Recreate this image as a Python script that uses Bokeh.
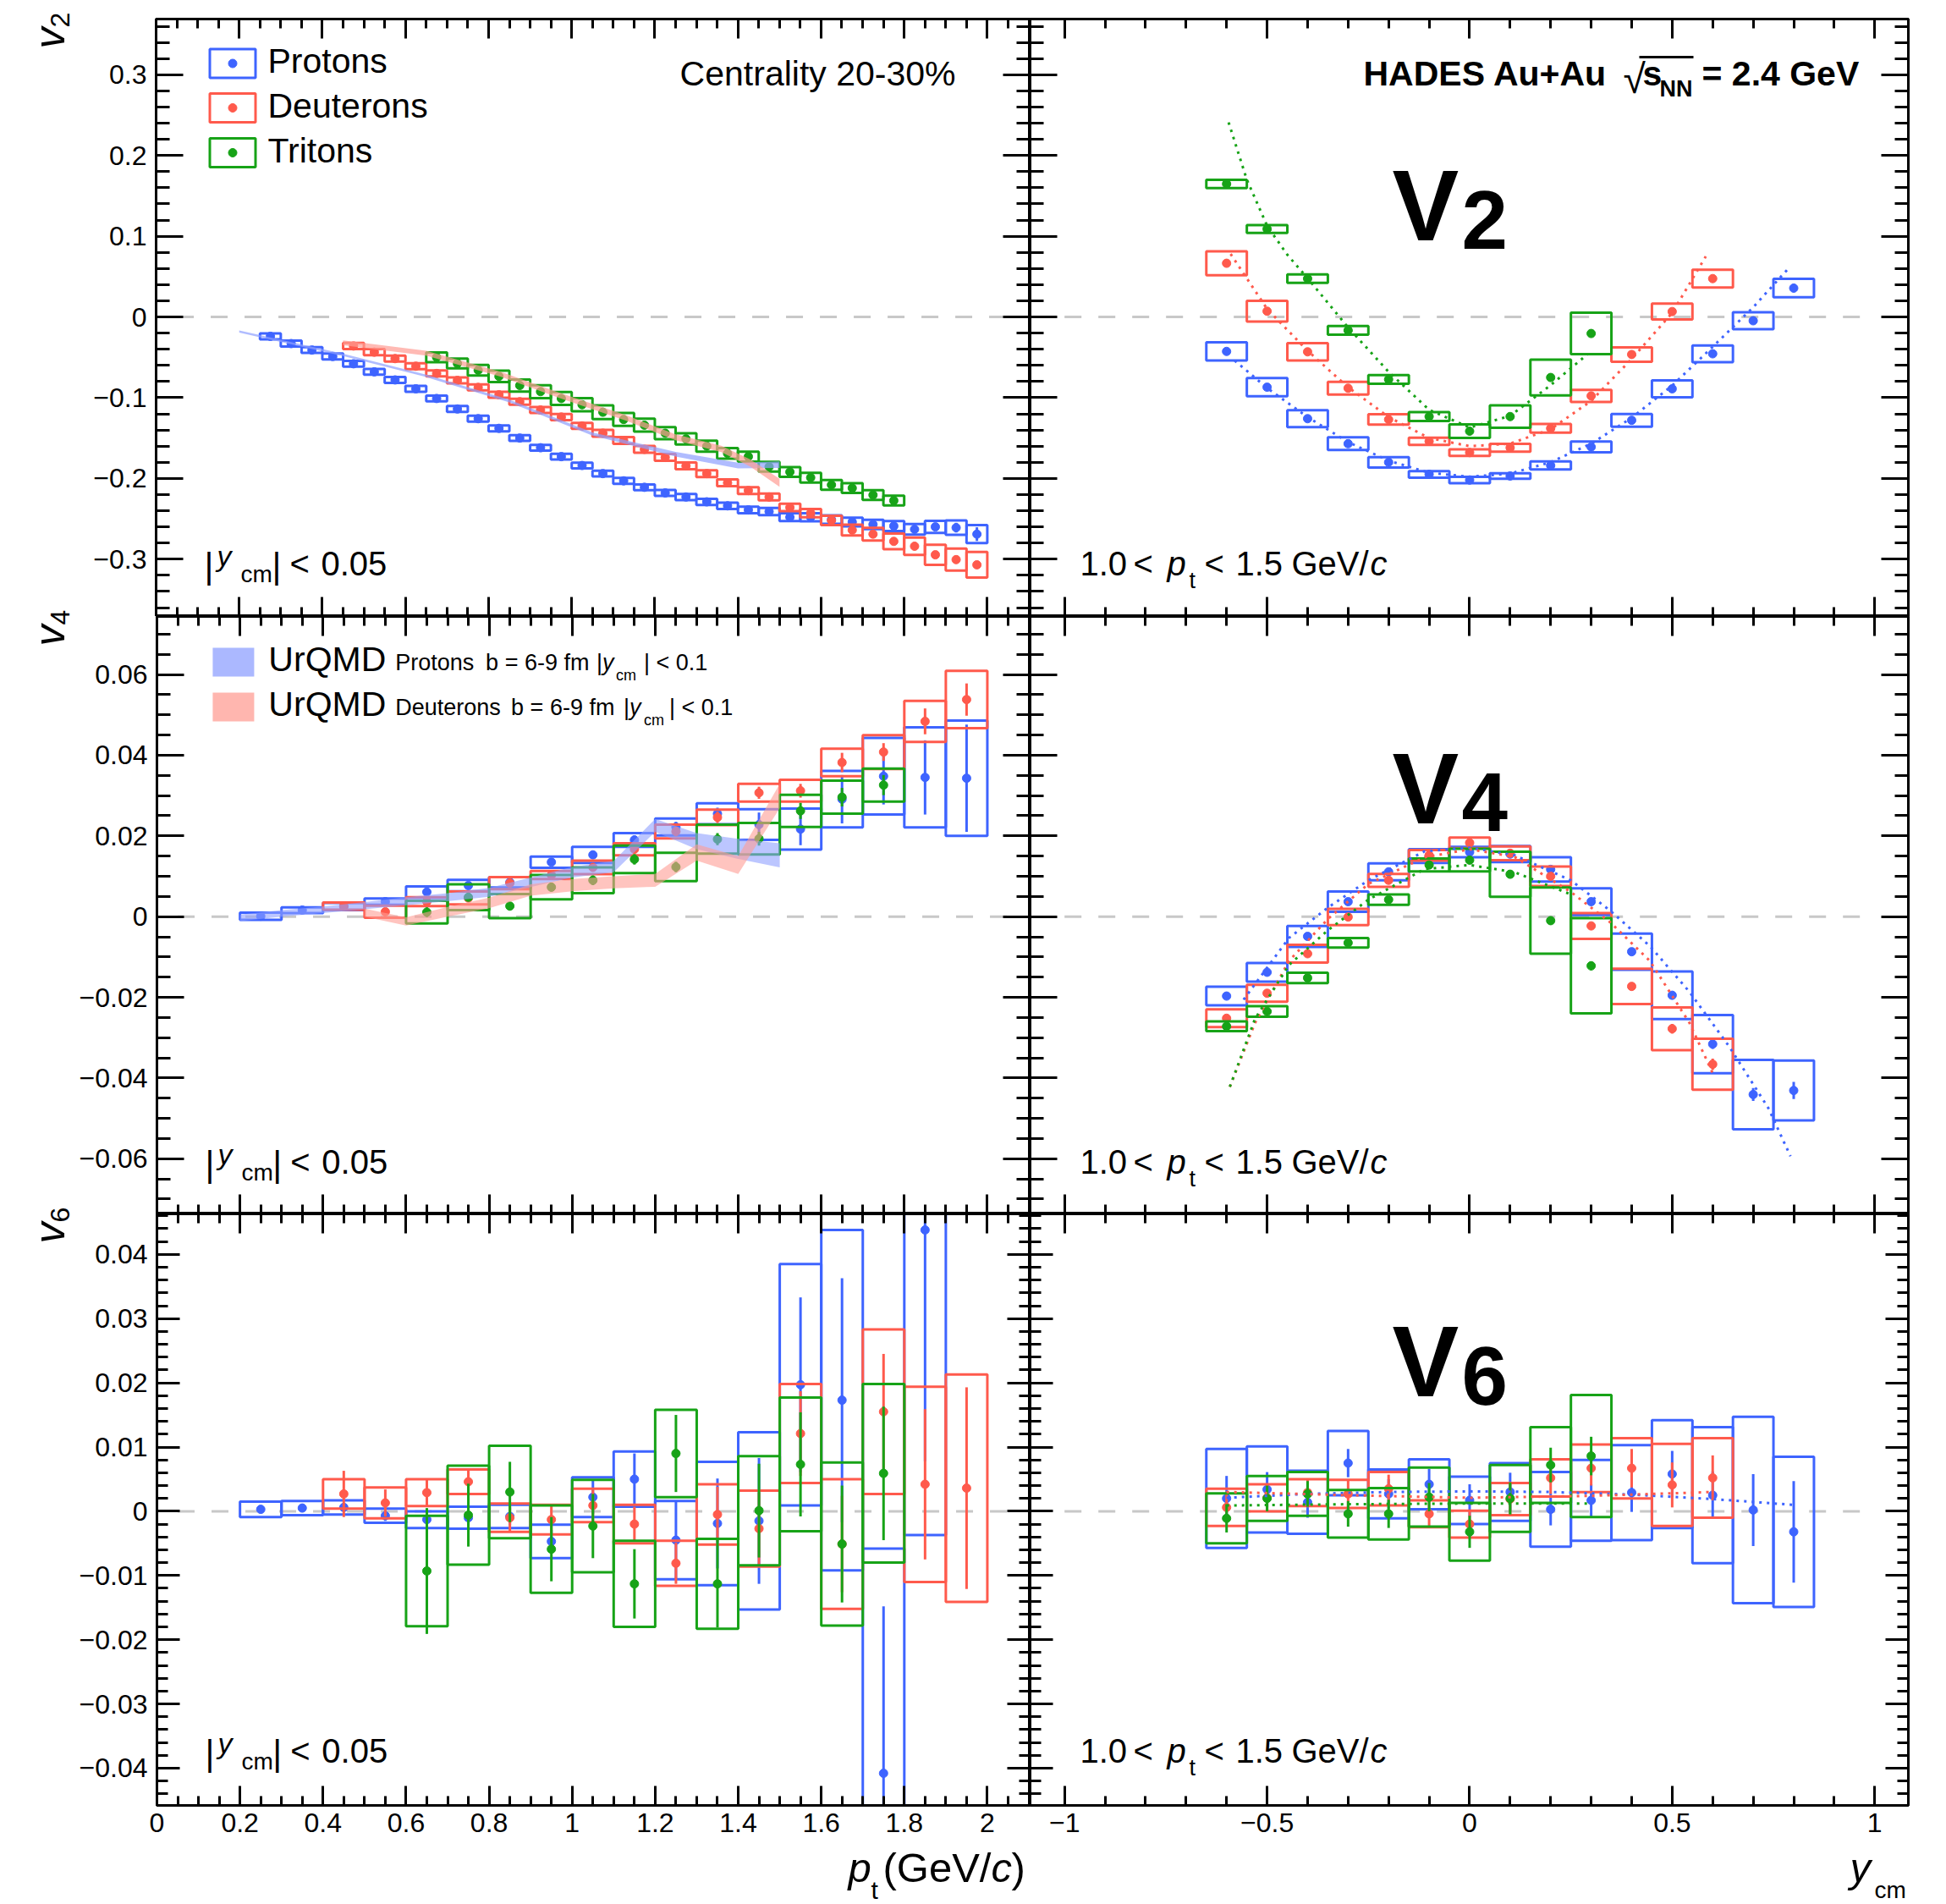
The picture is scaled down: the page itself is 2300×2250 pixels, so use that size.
import math
import numpy as np
from bokeh.plotting import figure
from bokeh.layouts import column, row
from bokeh.models import (Range1d, LinearAxis, FixedTicker, CustomJSTickFormatter, ColumnDataSource)
from bokeh.core.properties import value
from bokeh.embed import file_html
from bokeh.resources import INLINE

FONT = "Liberation Sans"
BLUE, RED, GREEN = "#3e64ff", "#ff5a4c", "#17a317"
BAND_BLUE, BAND_RED = "#8fa0ff", "#ff9d94"
ZERO_GREY = "#c8c8c8"
K_MID = 0.35   # distance (in em) from the text middle line to its baseline

# ===================== DATA =====================
# ---- v2 vs pt, |y_cm| < 0.05 ----
v2pt_p_pt = [0.275, 0.325, 0.375, 0.425, 0.475, 0.525, 0.575, 0.625, 0.675, 0.725, 0.775, 0.825,
             0.875, 0.925, 0.975, 1.025, 1.075, 1.125, 1.175, 1.225, 1.275, 1.325, 1.375, 1.425,
             1.475, 1.525, 1.575, 1.625, 1.675, 1.725, 1.775, 1.825, 1.875, 1.925, 1.975]
v2pt_p = [-0.024, -0.033, -0.041, -0.049, -0.058, -0.068, -0.078, -0.089, -0.101, -0.114, -0.126, -0.138,
          -0.150, -0.162, -0.173, -0.184, -0.194, -0.203, -0.211, -0.218, -0.223, -0.229, -0.234, -0.239,
          -0.241, -0.248, -0.248, -0.251, -0.254, -0.257, -0.259, -0.263, -0.260, -0.261, -0.269]
v2pt_p_sys = [0.0036, 0.0036, 0.0036, 0.0036, 0.0036, 0.0036, 0.0036, 0.0036, 0.0036, 0.0036, 0.0036, 0.0036,
              0.0036, 0.0036, 0.0036, 0.0036, 0.0036, 0.0036, 0.0036, 0.0036, 0.0038, 0.0038, 0.004, 0.004,
              0.0045, 0.0048, 0.005, 0.0052, 0.0054, 0.0058, 0.0062, 0.0066, 0.0075, 0.0089, 0.0112]
v2pt_p_stat = [0.0008] * 31 + [0.002, 0.003, 0.006, 0.0085]

v2pt_d_pt = [0.475, 0.525, 0.575, 0.625, 0.675, 0.725, 0.775, 0.825, 0.875, 0.925, 0.975, 1.025,
             1.075, 1.125, 1.175, 1.225, 1.275, 1.325, 1.375, 1.425, 1.475, 1.525, 1.575, 1.625,
             1.675, 1.725, 1.775, 1.825, 1.875, 1.925, 1.975]
v2pt_d = [-0.036, -0.0436, -0.0516, -0.061, -0.070, -0.0786, -0.0873, -0.0964, -0.105, -0.1153, -0.124, -0.135,
          -0.144, -0.153, -0.164, -0.174, -0.1845, -0.194, -0.2055, -0.215, -0.223, -0.236, -0.243, -0.252,
          -0.264, -0.269, -0.278, -0.284, -0.2946, -0.3006, -0.307]
v2pt_d_sys = [0.0037, 0.0037, 0.0037, 0.0037, 0.0037, 0.0037, 0.0037, 0.0037, 0.0037, 0.0037, 0.0037, 0.0037,
              0.0042, 0.0042, 0.0042, 0.0042, 0.0042, 0.0042, 0.0042, 0.0042, 0.0042, 0.0046, 0.005, 0.0058,
              0.0067, 0.0079, 0.0098, 0.0107, 0.0124, 0.0136, 0.0159]
v2pt_d_stat = [0.001] * 26 + [0.0015, 0.0018, 0.002, 0.0025, 0.003]

v2pt_t_pt = [0.675, 0.725, 0.775, 0.825, 0.875, 0.925, 0.975, 1.025, 1.075, 1.125, 1.175, 1.225,
             1.275, 1.325, 1.375, 1.425, 1.475, 1.525, 1.575, 1.625, 1.675, 1.725, 1.775]
v2pt_t = [-0.050, -0.0576, -0.066, -0.0736, -0.0849, -0.0925, -0.101, -0.1087, -0.118, -0.127, -0.134, -0.144,
          -0.151, -0.160, -0.169, -0.173, -0.1855, -0.192, -0.199, -0.208, -0.212, -0.2205, -0.2275]
v2pt_t_sys = [0.006, 0.006, 0.0065, 0.007, 0.0075, 0.008, 0.008, 0.008, 0.0085, 0.008, 0.008, 0.0075,
              0.007, 0.0068, 0.0065, 0.0062, 0.006, 0.006, 0.006, 0.006, 0.006, 0.006, 0.006]
v2pt_t_stat = [0.001] * 23

# UrQMD v2 bands
urqmd_p_v2_pt = [0.2, 0.45, 0.65, 0.85, 1.05, 1.25, 1.4, 1.5]
urqmd_p_v2 = [-0.018, -0.047, -0.073, -0.104, -0.145, -0.170, -0.184, -0.183]
urqmd_p_v2_hw = [0.0014, 0.0014, 0.0015, 0.0017, 0.002, 0.0028, 0.0035, 0.004]
urqmd_d_v2_pt = [0.45, 0.65, 0.83, 0.97, 1.13, 1.25, 1.36, 1.43, 1.5]
urqmd_d_v2 = [-0.032, -0.045, -0.071, -0.097, -0.125, -0.149, -0.1635, -0.181, -0.2055]
urqmd_d_v2_hw = [0.003, 0.003, 0.003, 0.0032, 0.0034, 0.0036, 0.004, 0.0045, 0.005]

# ---- v2 vs y_cm, 1.0 < pt < 1.5 ----
v2y_p_y = [-0.6, -0.5, -0.4, -0.3, -0.2, -0.1, 0.0, 0.1, 0.2, 0.3, 0.4, 0.5, 0.6, 0.7, 0.8]
v2y_p = [-0.0427, -0.087, -0.126, -0.157, -0.180, -0.195, -0.202, -0.197, -0.184, -0.161, -0.128, -0.089,
         -0.0456, -0.0047, 0.0357]
v2y_p_sys = [0.0113, 0.0112, 0.0104, 0.0079, 0.0064, 0.0041, 0.0039, 0.0034, 0.005, 0.0067, 0.0079, 0.0104,
             0.0104, 0.0104, 0.0114]
v2y_p_stat = [0.002] * 15
v2y_d_y = [-0.6, -0.5, -0.4, -0.3, -0.2, -0.1, 0.0, 0.1, 0.2, 0.3, 0.4, 0.5, 0.6]
v2y_d = [0.0665, 0.0071, -0.0432, -0.0883, -0.127, -0.154, -0.168, -0.162, -0.138, -0.0978, -0.0465, 0.0067, 0.0475]
v2y_d_sys = [0.0148, 0.0129, 0.0107, 0.0079, 0.0064, 0.0044, 0.0041, 0.0048, 0.0054, 0.0074, 0.0089, 0.0098, 0.011]
v2y_d_stat = [0.0025] * 13
v2y_t_y = [-0.6, -0.5, -0.4, -0.3, -0.2, -0.1, 0.0, 0.1, 0.2, 0.3]
v2y_t = [0.1648, 0.109, 0.0475, -0.0166, -0.0774, -0.1234, -0.1415, -0.1234, -0.075, -0.0205]
v2y_t_sys = [0.0051, 0.0048, 0.0053, 0.0053, 0.0054, 0.0054, 0.0084, 0.0138, 0.0221, 0.0257]
v2y_t_stat = [0.003] * 10
# fit curves
fit2_p_y = [-0.58, -0.5, -0.4, -0.3, -0.2, -0.1, 0.0, 0.1, 0.2, 0.3, 0.4, 0.5, 0.6, 0.7, 0.785]
fit2_p = [-0.054, -0.088, -0.124, -0.155, -0.178, -0.193, -0.198, -0.194, -0.180, -0.157, -0.125, -0.085,
          -0.037, 0.012, 0.059]
fit2_d_y = [-0.59, -0.5, -0.4, -0.3, -0.2, -0.1, 0.0, 0.1, 0.2, 0.3, 0.4, 0.5, 0.583]
fit2_d = [0.078, 0.010, -0.042, -0.087, -0.124, -0.150, -0.160, -0.157, -0.139, -0.104, -0.052, 0.005, 0.075]
fit2_t_y = [-0.595, -0.55, -0.5, -0.45, -0.4, -0.3, -0.2, -0.1, 0.0, 0.1, 0.2, 0.29]
fit2_t = [0.241, 0.170, 0.113, 0.077, 0.048, -0.013, -0.068, -0.115, -0.137, -0.1225, -0.0845, -0.0466]

# ---- v4 vs pt ----
v4pt_p_pt = [0.25, 0.35, 0.45, 0.55, 0.65, 0.75, 0.85, 0.95, 1.05, 1.15, 1.25, 1.35, 1.45, 1.55, 1.65, 1.75, 1.85, 1.95]
v4pt_p = [0.0001, 0.0016, 0.0025, 0.0037, 0.0061, 0.0077, 0.0085, 0.0135, 0.0153, 0.019, 0.0222, 0.0255,
          0.0228, 0.0217, 0.0291, 0.0348, 0.0345, 0.0343]
v4pt_p_sys = [0.0009, 0.0007, 0.0009, 0.0008, 0.0014, 0.0014, 0.0013, 0.0014, 0.002, 0.0017, 0.0021, 0.0026,
              0.0038, 0.0051, 0.007, 0.0095, 0.0124, 0.0143]
v4pt_p_stat = [0.0004, 0.0004, 0.0004, 0.0005, 0.0006, 0.0007, 0.0008, 0.0009, 0.001, 0.0011, 0.0013, 0.0015,
               0.003, 0.004, 0.006, 0.007, 0.0092, 0.0133]
v4pt_d_pt = [0.45, 0.55, 0.65, 0.75, 0.85, 0.95, 1.05, 1.15, 1.25, 1.35, 1.45, 1.55, 1.65, 1.75, 1.85, 1.95]
v4pt_d = [0.0026, 0.0012, 0.0037, 0.0046, 0.0083, 0.0103, 0.0122, 0.0167, 0.0211, 0.0246, 0.0307, 0.0312,
          0.0382, 0.0408, 0.0484, 0.0538]
v4pt_d_sys = [0.0009, 0.0015, 0.0011, 0.0016, 0.0015, 0.001, 0.0017, 0.0015, 0.0017, 0.0019, 0.0022, 0.0027,
              0.0034, 0.0042, 0.0051, 0.0071]
v4pt_d_stat = [0.0008, 0.0008, 0.0008, 0.0008, 0.0009, 0.0009, 0.001, 0.001, 0.0012, 0.0014, 0.0015, 0.0017,
               0.0024, 0.0022, 0.0032, 0.004]
v4pt_t_pt = [0.65, 0.75, 0.85, 0.95, 1.05, 1.15, 1.25, 1.35, 1.45, 1.55, 1.65, 1.75]
v4pt_t = [0.0011, 0.0048, 0.0026, 0.0073, 0.009, 0.0142, 0.0123, 0.0192, 0.0193, 0.0262, 0.0296, 0.0326]
v4pt_t_sys = [0.0028, 0.0032, 0.003, 0.003, 0.0032, 0.0034, 0.0035, 0.0036, 0.0039, 0.004, 0.0041, 0.0041]
v4pt_t_stat = [0.0012, 0.001, 0.001, 0.0011, 0.0012, 0.0013, 0.0013, 0.0015, 0.0017, 0.002, 0.0023, 0.0025]
# UrQMD v4 bands
urqmd_p_v4_pt = [0.2, 0.3, 0.4, 0.5, 0.6, 0.7, 0.8, 0.9, 1.0, 1.1, 1.2, 1.3, 1.4, 1.5]
urqmd_p_v4 = [-0.0003, 0.0008, 0.0017, 0.0027, 0.0038, 0.0048, 0.006, 0.0085, 0.011, 0.0124, 0.0226, 0.0187,
              0.0168, 0.0152]
urqmd_p_v4_hw = [0.0008, 0.0008, 0.0008, 0.0009, 0.001, 0.001, 0.0011, 0.0012, 0.0013, 0.0014, 0.0016, 0.002,
                 0.0025, 0.003]
urqmd_d_v4_pt = [0.5, 0.6, 0.7, 0.8, 0.9, 1.0, 1.1, 1.2, 1.3, 1.4, 1.5]
urqmd_d_v4 = [0.0010, -0.0012, 0.0012, 0.0034, 0.0066, 0.0078, 0.0085, 0.009, 0.0159, 0.0128, 0.0299]
urqmd_d_v4_hw = [0.001, 0.001, 0.0012, 0.0013, 0.0014, 0.0015, 0.0015, 0.0016, 0.002, 0.0022, 0.003]

# ---- v4 vs y_cm ----
v4y_p_y = [-0.6, -0.5, -0.4, -0.3, -0.2, -0.1, 0.0, 0.1, 0.2, 0.3, 0.4, 0.5, 0.6, 0.7, 0.8]
v4y_p = [-0.0197, -0.0138, -0.0049, 0.0037, 0.0111, 0.015, 0.016, 0.0155, 0.0117, 0.0037, -0.0087, -0.0195,
         -0.0316, -0.0441, -0.0431]
v4y_p_sys = [0.0023, 0.0023, 0.0026, 0.0025, 0.0021, 0.0017, 0.0013, 0.002, 0.003, 0.0033, 0.0045, 0.0059,
             0.0072, 0.0086, 0.0074]
v4y_p_stat = [0.0008, 0.0008, 0.0007, 0.0007, 0.0007, 0.0007, 0.0007, 0.0007, 0.0008, 0.0008, 0.0009, 0.001,
              0.0012, 0.0016, 0.0021]
v4y_d_y = [-0.6, -0.5, -0.4, -0.3, -0.2, -0.1, 0.0, 0.1, 0.2, 0.3, 0.4, 0.5, 0.6]
v4y_d = [-0.0252, -0.019, -0.0092, -0.0001, 0.009, 0.0152, 0.0183, 0.0157, 0.01, -0.0023, -0.0173, -0.0278, -0.0366]
v4y_d_sys = [0.0022, 0.0021, 0.0022, 0.002, 0.0016, 0.0013, 0.0013, 0.0017, 0.0024, 0.0032, 0.0044, 0.0053, 0.0063]
v4y_d_stat = [0.0009, 0.0009, 0.0008, 0.0008, 0.0008, 0.0008, 0.0008, 0.0008, 0.0008, 0.0009, 0.001, 0.0012, 0.0014]
v4y_t_y = [-0.6, -0.5, -0.4, -0.3, -0.2, -0.1, 0.0, 0.1, 0.2, 0.3]
v4y_t = [-0.0272, -0.0235, -0.0152, -0.0065, 0.0042, 0.0128, 0.014, 0.0105, -0.001, -0.0122]
v4y_t_sys = [0.0012, 0.0013, 0.0013, 0.0012, 0.0013, 0.0016, 0.0028, 0.0056, 0.0082, 0.0118]
v4y_t_stat = [0.0008, 0.0008, 0.0008, 0.0008, 0.0008, 0.0008, 0.0008, 0.0009, 0.001, 0.0011]
fit4_p_y = [-0.558, -0.446, -0.349, -0.25, -0.111, 0.0, 0.111, 0.25, 0.348, 0.445, 0.543, 0.64, 0.737, 0.792]
fit4_p = [-0.0206, -0.0053, 0.0023, 0.009, 0.0162, 0.0171, 0.0152, 0.009, 0.0014, -0.0073, -0.0187, -0.0321,
          -0.0474, -0.0594]
fit4_d_y = [-0.592, -0.53, -0.446, -0.35, -0.25, -0.111, 0.0, 0.111, 0.25, 0.348, 0.445, 0.543, 0.6]
fit4_d = [-0.0422, -0.0264, -0.011, -0.0006, 0.0081, 0.0147, 0.0167, 0.0148, 0.0061, -0.0015, -0.011, -0.0264,
          -0.0388]
fit4_t_y = [-0.592, -0.53, -0.446, -0.35, -0.25, -0.111, 0.0, 0.111, 0.25]
fit4_t = [-0.0422, -0.0254, -0.012, -0.0034, 0.0042, 0.0118, 0.0128, 0.011, 0.0055]

# ---- v6 vs pt ----
v6pt_p_pt = [0.25, 0.35, 0.45, 0.55, 0.65, 0.75, 0.85, 0.95, 1.05, 1.15, 1.25, 1.35, 1.45, 1.55, 1.65, 1.75, 1.85]
v6pt_p = [0.0003, 0.0005, 0.0006, -0.0007, -0.0013, -0.001, -0.0008, -0.0047, 0.0022, 0.005, -0.0045, -0.0019,
          -0.0015, 0.0197, 0.0173, -0.0408, 0.0438]
v6pt_p_sys = [0.0012, 0.0011, 0.0011, 0.0011, 0.0013, 0.0017, 0.0018, 0.0026, 0.0031, 0.0043, 0.0061, 0.0096,
              0.0138, 0.0188, 0.0265, 0.035, 0.0475]
v6pt_p_stat = [0.0006, 0.0006, 0.0007, 0.0008, 0.001, 0.0012, 0.0014, 0.0018, 0.0026, 0.004, 0.006, 0.007,
               0.0098, 0.0136, 0.019, 0.026, 0.036]
v6pt_d_pt = [0.45, 0.55, 0.65, 0.75, 0.85, 0.95, 1.05, 1.15, 1.25, 1.35, 1.45, 1.55, 1.65, 1.75, 1.85, 1.95]
v6pt_d = [0.0027, 0.0013, 0.0029, 0.0046, -0.001, -0.0013, 0.0009, -0.002, -0.0081, -0.0005, -0.0027, 0.0121,
          -0.0051, 0.0155, 0.0042, 0.0036]
v6pt_d_sys = [0.0023, 0.0024, 0.0021, 0.0019, 0.0022, 0.0023, 0.0026, 0.003, 0.0035, 0.0047, 0.0059, 0.0077,
              0.0101, 0.0128, 0.0152, 0.0177]
v6pt_d_stat = [0.0036, 0.0021, 0.002, 0.002, 0.0022, 0.0022, 0.0024, 0.0027, 0.0032, 0.0043, 0.0056, 0.0066,
               0.0075, 0.009, 0.0117, 0.0157]
v6pt_t_pt = [0.65, 0.75, 0.85, 0.95, 1.05, 1.15, 1.25, 1.35, 1.45, 1.55, 1.65, 1.75]
v6pt_t = [-0.0093, -0.0006, 0.003, -0.0059, -0.0023, -0.0113, 0.009, -0.0113, 0.0001, 0.0073, -0.0051, 0.0059]
v6pt_t_sys = [0.0086, 0.0077, 0.0072, 0.0068, 0.0072, 0.0067, 0.0068, 0.007, 0.0085, 0.0104, 0.0127, 0.0139]
v6pt_t_stat = [0.0098, 0.0049, 0.0047, 0.005, 0.005, 0.0054, 0.006, 0.0068, 0.0073, 0.0081, 0.0091, 0.0104]

# ---- v6 vs y_cm ----
v6y_p_y = [-0.6, -0.5, -0.4, -0.3, -0.2, -0.1, 0.0, 0.1, 0.2, 0.3, 0.4, 0.5, 0.6, 0.7, 0.8]
v6y_p = [0.002, 0.0034, 0.0014, 0.0075, 0.0027, 0.0042, 0.0017, 0.003, 0.0003, 0.0017, 0.0029, 0.0058, 0.0025,
         0.0002, -0.0032]
v6y_p_sys = [0.0077, 0.0067, 0.0049, 0.005, 0.0038, 0.0039, 0.0037, 0.0045, 0.0058, 0.0063, 0.0074, 0.0084,
             0.0106, 0.0145, 0.0117]
v6y_p_stat = [0.0035, 0.0027, 0.0024, 0.0022, 0.0023, 0.0024, 0.0025, 0.003, 0.0025, 0.0025, 0.003, 0.0036,
              0.0037, 0.0056, 0.0079]
v6y_d_y = [-0.6, -0.5, -0.4, -0.3, -0.2, -0.1, 0.0, 0.1, 0.2, 0.3, 0.4, 0.5, 0.6]
v6y_d = [0.0006, 0.0021, 0.0029, 0.0027, 0.0035, -0.0004, -0.002, 0.0019, 0.0052, 0.0067, 0.0067, 0.0041, 0.0052]
v6y_d_sys = [0.0029, 0.0021, 0.0021, 0.0022, 0.0026, 0.0021, 0.0021, 0.0025, 0.0029, 0.0037, 0.0047, 0.0064, 0.0062]
v6y_d_stat = [0.0025, 0.0022, 0.0022, 0.0022, 0.0022, 0.0022, 0.0022, 0.0025, 0.0025, 0.0027, 0.003, 0.0035, 0.0035]
v6y_t_y = [-0.6, -0.5, -0.4, -0.3, -0.2, -0.1, 0.0, 0.1, 0.2, 0.3]
v6y_t = [-0.0011, 0.002, 0.0027, -0.0004, -0.0004, 0.0022, -0.0032, 0.002, 0.0072, 0.0086]
v6y_t_sys = [0.0039, 0.0035, 0.0034, 0.0037, 0.004, 0.0046, 0.0045, 0.0052, 0.0059, 0.0095]
v6y_t_stat = [0.0022, 0.002, 0.002, 0.002, 0.0022, 0.0022, 0.0025, 0.0025, 0.0027, 0.003]
fit6_p_y = [-0.6, -0.4, -0.2, 0.0, 0.2, 0.4, 0.6, 0.8]
fit6_p = [0.0021, 0.0027, 0.003, 0.0031, 0.003, 0.0026, 0.0019, 0.001]
fit6_d_y = [-0.6, -0.3, 0.0, 0.3, 0.6]
fit6_d = [0.003, 0.0025, 0.0021, 0.0024, 0.003]
fit6_t_y = [-0.6, -0.3, 0.0, 0.3]
fit6_t = [0.0009, 0.0011, 0.0012, 0.0012]

# axis ranges
XL = (0.0, 2.103)
XR = (-1.085, 1.083)
Y2 = (-0.371, 0.369)
Y4 = (-0.0737, 0.0744)
Y6 = (-0.0458, 0.0463)

# ===================== LAYOUT (page pixels) =====================
TW = 90            # width of the y-title column
FXL = (184, 1217)
FXR = (1217, 2255)
FYT = (22, 728)
FYM = (728, 1434)
FYB = (1434, 2133)
BOT = 46           # bottom border for tick labels
STRIP = (FYB[1] + BOT, 2250)

ticks_xl = [round(0.2 * i, 3) for i in range(11)]
minor_xl = [round(0.05 * i, 3) for i in range(43)]
ticks_xr = [-1.0, -0.5, 0.0, 0.5, 1.0]
minor_xr = [round(-1.0 + 0.1 * i, 3) for i in range(21)]
ticks_y2 = [round(-0.3 + 0.1 * i, 3) for i in range(7)]
minor_y2 = [round(-0.36 + 0.02 * i, 3) for i in range(37)]
ticks_y4 = [round(-0.06 + 0.02 * i, 3) for i in range(7)]
minor_y4 = [round(-0.07 + 0.005 * i, 4) for i in range(29)]
ticks_y6 = [round(-0.04 + 0.01 * i, 3) for i in range(9)]
minor_y6 = [round(-0.044 + 0.002 * i, 4) for i in range(46)]

FMT_CODE = r"""
if (Math.abs(tick) < 1e-9) { return "0"; }
var s = Math.abs(tick).toFixed(3).replace(/\.?0+$/, "");
return (tick < 0 ? "\u2212" : "") + s;
"""


def put_text(p, x, y, s, size, style="normal", align="left", angle=0.0, color="black"):
    p.text(x=[x], y=[y], text=[s], text_font=value(FONT), text_font_size=value(f"{size}px"),
           text_font_style=value(style), text_align=value(align), text_baseline=value("middle"),
           angle=angle, text_color=color)


def plain_fig(w, h, xr, yr):
    p = figure(width=w, height=h, x_range=Range1d(*xr), y_range=Range1d(*yr),
               output_backend="svg", toolbar_location=None,
               x_axis_location=None, y_axis_location=None,
               min_border_left=0, min_border_right=0, min_border_top=0, min_border_bottom=0)
    p.grid.grid_line_color = None
    p.outline_line_color = None
    p.background_fill_color = "white"
    p.border_fill_color = "white"
    return p


class PageFig:
    """A frame-only figure whose data coordinates are page pixels (y negated)."""
    def __init__(self, x0, x1, y0, y1):
        self.p = plain_fig(x1 - x0, y1 - y0, (x0, x1), (-y1, -y0))

    def text(self, X, Y, s, size, style="normal", align="left", rot=False):
        if rot:
            put_text(self.p, X - K_MID * size, -Y, s, size, style, align, math.pi / 2)
        else:
            put_text(self.p, X, -(Y - K_MID * size), s, size, style, align)


class Panel:
    def __init__(self, xr, yr, fx, fy, bl, br, bt, bb, xt, xm, yt, ym, ylen, xlab, ylab):
        self.xr, self.yr, self.fx, self.fy = xr, yr, fx, fy
        w = bl + (fx[1] - fx[0]) + br
        h = bt + (fy[1] - fy[0]) + bb
        p = figure(width=w, height=h, x_range=Range1d(*xr), y_range=Range1d(*yr),
                   output_backend="svg", toolbar_location=None,
                   x_axis_location=None, y_axis_location=None,
                   min_border_left=bl, min_border_right=br, min_border_top=bt, min_border_bottom=bb)
        p.grid.grid_line_color = None
        p.outline_line_color = "black"
        p.outline_line_width = 3
        p.background_fill_color = "white"
        p.border_fill_color = "white"
        for side in ["below", "above", "left", "right"]:
            horiz = side in ("below", "above")
            tk = FixedTicker(ticks=xt if horiz else yt, minor_ticks=xm if horiz else ym)
            ax = LinearAxis(ticker=tk)
            L = 23 if horiz else ylen
            ax.major_tick_in = L
            ax.major_tick_out = 0
            ax.minor_tick_in = L // 2
            ax.minor_tick_out = 0
            ax.axis_line_color = "black"
            ax.axis_line_width = 3
            ax.major_tick_line_color = "black"
            ax.major_tick_line_width = 3
            ax.minor_tick_line_color = "black"
            ax.minor_tick_line_width = 3
            show = (side == "below" and xlab) or (side == "left" and ylab)
            if show:
                ax.formatter = CustomJSTickFormatter(code=FMT_CODE)
                ax.major_label_text_font = FONT
                ax.major_label_text_font_size = "32px"
                ax.major_label_text_color = "black"
                ax.major_label_standoff = 9 if horiz else 11
            else:
                ax.formatter = CustomJSTickFormatter(code='return "";')
                ax.major_label_text_font_size = "0px"
                ax.major_label_standoff = 0
            p.add_layout(ax, side)
        self.p = p

    def d(self, X, Y):
        x = self.xr[0] + (X - self.fx[0]) / (self.fx[1] - self.fx[0]) * (self.xr[1] - self.xr[0])
        y = self.yr[1] - (Y - self.fy[0]) / (self.fy[1] - self.fy[0]) * (self.yr[1] - self.yr[0])
        return x, y

    def text(self, X, Y, s, size, style="normal", align="left"):
        x, y = self.d(X, Y - K_MID * size)
        put_text(self.p, x, y, s, size, style, align)

    def zero(self, x0, x1):
        self.p.line(x=[x0, x1], y=[0, 0], line_color=ZERO_GREY, line_width=3, line_dash="20 20")

    def series(self, x, v, sys, stat, width, color):
        x = np.asarray(x, float)
        v = np.asarray(v, float)
        sys = np.asarray(sys, float)
        stat = np.asarray(stat, float)
        src = ColumnDataSource(dict(x=x, v=v, h=2 * sys, lo=v - stat, hi=v + stat))
        self.p.rect(x="x", y="v", width=width, height="h", source=src, fill_alpha=0,
                    line_color=color, line_width=3)
        self.p.segment(x0="x", y0="lo", x1="x", y1="hi", source=src, line_color=color, line_width=3)
        self.p.scatter(x="x", y="v", source=src, size=10, fill_color=color, line_color=color)

    def band(self, x, c, hw, color, alpha=0.7):
        c = np.asarray(c, float)
        hw = np.asarray(hw, float)
        self.p.varea(x=x, y1=c - hw, y2=c + hw, fill_color=color, fill_alpha=alpha)

    def fit(self, x, y, color):
        self.p.line(x=x, y=y, line_color=color, line_width=3, line_dash="3 6")


BL = FXL[0] - TW
tl = Panel(XL, Y2, FXL, FYT, BL, 0, FYT[0], 0, ticks_xl, minor_xl, ticks_y2, minor_y2, 32, False, True)
tr = Panel(XR, Y2, FXR, FYT, 0, 45, FYT[0], 0, ticks_xr, minor_xr, ticks_y2, minor_y2, 32, False, False)
ml = Panel(XL, Y4, FXL, FYM, BL, 0, 0, 0, ticks_xl, minor_xl, ticks_y4, minor_y4, 32, False, True)
mr = Panel(XR, Y4, FXR, FYM, 0, 45, 0, 0, ticks_xr, minor_xr, ticks_y4, minor_y4, 32, False, False)
bl = Panel(XL, Y6, FXL, FYB, BL, 0, 0, BOT, ticks_xl, minor_xl, ticks_y6, minor_y6, 27, True, True)
br = Panel(XR, Y6, FXR, FYB, 0, 45, 0, BOT, ticks_xr, minor_xr, ticks_y6, minor_y6, 27, True, False)

ytl = PageFig(0, TW, 0, 2250)                 # one tall column for the rotated y titles
xt = PageFig(TW, 2300, STRIP[0], STRIP[1])    # strip for the x titles

for P in (tl, ml, bl):
    P.zero(0.05, 2.05)
for P in (tr, mr, br):
    P.zero(-1.0, 1.0)

# ---- data ----
tl.series(v2pt_p_pt, v2pt_p, v2pt_p_sys, v2pt_p_stat, 0.05, BLUE)
tl.series(v2pt_d_pt, v2pt_d, v2pt_d_sys, v2pt_d_stat, 0.05, RED)
tl.series(v2pt_t_pt, v2pt_t, v2pt_t_sys, v2pt_t_stat, 0.05, GREEN)
tl.band(urqmd_p_v2_pt, urqmd_p_v2, urqmd_p_v2_hw, BAND_BLUE)
tl.band(urqmd_d_v2_pt, urqmd_d_v2, urqmd_d_v2_hw, BAND_RED)

tr.series(v2y_p_y, v2y_p, v2y_p_sys, v2y_p_stat, 0.1, BLUE)
tr.series(v2y_d_y, v2y_d, v2y_d_sys, v2y_d_stat, 0.1, RED)
tr.series(v2y_t_y, v2y_t, v2y_t_sys, v2y_t_stat, 0.1, GREEN)
tr.fit(fit2_p_y, fit2_p, BLUE)
tr.fit(fit2_d_y, fit2_d, RED)
tr.fit(fit2_t_y, fit2_t, GREEN)

ml.series(v4pt_p_pt, v4pt_p, v4pt_p_sys, v4pt_p_stat, 0.1, BLUE)
ml.series(v4pt_d_pt, v4pt_d, v4pt_d_sys, v4pt_d_stat, 0.1, RED)
ml.series(v4pt_t_pt, v4pt_t, v4pt_t_sys, v4pt_t_stat, 0.1, GREEN)
ml.band(urqmd_p_v4_pt, urqmd_p_v4, urqmd_p_v4_hw, BAND_BLUE, 0.6)
ml.band(urqmd_d_v4_pt, urqmd_d_v4, urqmd_d_v4_hw, BAND_RED, 0.6)

mr.series(v4y_p_y, v4y_p, v4y_p_sys, v4y_p_stat, 0.1, BLUE)
mr.series(v4y_d_y, v4y_d, v4y_d_sys, v4y_d_stat, 0.1, RED)
mr.series(v4y_t_y, v4y_t, v4y_t_sys, v4y_t_stat, 0.1, GREEN)
mr.fit(fit4_p_y, fit4_p, BLUE)
mr.fit(fit4_d_y, fit4_d, RED)
mr.fit(fit4_t_y, fit4_t, GREEN)

bl.series(v6pt_p_pt, v6pt_p, v6pt_p_sys, v6pt_p_stat, 0.1, BLUE)
bl.series(v6pt_d_pt, v6pt_d, v6pt_d_sys, v6pt_d_stat, 0.1, RED)
bl.series(v6pt_t_pt, v6pt_t, v6pt_t_sys, v6pt_t_stat, 0.1, GREEN)

br.series(v6y_p_y, v6y_p, v6y_p_sys, v6y_p_stat, 0.1, BLUE)
br.series(v6y_d_y, v6y_d, v6y_d_sys, v6y_d_stat, 0.1, RED)
br.series(v6y_t_y, v6y_t, v6y_t_sys, v6y_t_stat, 0.1, GREEN)
br.fit(fit6_p_y, fit6_p, BLUE)
br.fit(fit6_d_y, fit6_d, RED)
br.fit(fit6_t_y, fit6_t, GREEN)

# ===================== TEXT / LEGENDS =====================
for (name, col, cy, by) in (("Protons", BLUE, 74.5, 86), ("Deuterons", RED, 127, 139), ("Tritons", GREEN, 180, 192)):
    x, y = tl.d(274.5, cy)
    tl.p.rect(x=[x], y=[y], width=54, height=34, width_units="screen", height_units="screen",
              fill_alpha=0, line_color=col, line_width=3)
    tl.p.scatter(x=[x], y=[y], size=10, fill_color=col, line_color=col)
    tl.text(316, by, name, 41)
tl.text(1129, 101, "Centrality 20-30%", 41, align="right")

# UrQMD legend: (swatch colour, swatch centre y, baseline, species, x of "b = ...", x of "|y", x of "cm", x of "| < 0.1")
for (col, cy, by, sp, xb, xy, xc, xe) in ((BAND_BLUE, 782, 793, "Protons", 573, 704, 727, 760),
                                           (BAND_RED, 835, 846, "Deuterons", 603, 736, 760, 790)):
    x, y = ml.d(274.5, cy)
    ml.p.rect(x=[x], y=[y], width=49, height=34, width_units="screen", height_units="screen",
              fill_color=col, fill_alpha=0.75, line_alpha=0)
    ml.text(316, by, "UrQMD", 41)
    ml.text(466, by - 1, sp, 27)
    ml.text(xb, by - 1, "b = 6-9 fm", 27)
    ml.text(xy, by - 1, "|", 27)
    ml.text(xy + 7, by - 1, "y", 27, style="italic")
    ml.text(xc, by + 11, "cm", 18)
    ml.text(xe, by - 1, "| < 0.1", 27)

for P, B in ((tl, 679), (ml, 1386), (bl, 2082)):
    P.text(241, B + 4, "|", 42)
    P.text(256, B - 11, "y", 34, style="italic")
    P.text(284, B + 9, "cm", 28)
    P.text(321, B + 4, "|", 42)
    P.text(342, B, "<", 40)
    P.text(379, B, "0.05", 40)

for P, B in ((tr, 679), (mr, 1386), (br, 2082)):
    P.text(1276, B, "1.0", 40)
    P.text(1339, B, "<", 40)
    P.text(1379, B, "p", 40, style="italic")
    P.text(1405, B + 16, "t", 27)
    P.text(1423, B, "<", 40)
    P.text(1460, B, "1.5", 40)
    P.text(1526, B, "GeV/", 40)
    P.text(1619, B, "c", 40, style="italic")

for P, n, bv, bn in ((tr, "2", 284, 294), (mr, "4", 973, 982), (br, "6", 1650, 1660)):
    P.text(1645, bv, "V", 118, style="bold")
    P.text(1727, bn, n, 98, style="bold")

tr.text(1611, 101, "HADES Au+Au", 41, style="bold")
tr.text(1918, 110, "\u221a", 48)
x0, y0 = tr.d(1937, 67)
x1, y1 = tr.d(2001, 67)
tr.p.segment(x0=[x0], y0=[y0], x1=[x1], y1=[y1], line_color="black", line_width=3)
tr.text(1941, 101, "s", 41, style="bold")
tr.text(1961, 114, "NN", 27, style="bold")
tr.text(2011, 101, "= 2.4 GeV", 41, style="bold")

# rotated y titles (baseline x, start y)
for n, top in (("2", FYT[0]), ("4", FYM[0]), ("6", FYB[0])):
    b = top + 35
    ytl.text(76, b, "v", 50, style="italic", rot=True)
    ytl.text(82, b - 25, n, 32, rot=True)

# x titles
xt.text(1002, 2224, "p", 49, style="italic")
xt.text(1029, 2243, "t", 30)
xt.text(1043, 2224, "(GeV/", 49)
xt.text(1171, 2224, "c", 49, style="italic")
xt.text(1195, 2224, ")", 49)
xt.text(2186, 2224, "y", 49, style="italic")
xt.text(2215, 2243, "cm", 28)

layout = row(ytl.p,
             column(row(tl.p, tr.p, spacing=0),
                    row(ml.p, mr.p, spacing=0),
                    row(bl.p, br.p, spacing=0),
                    xt.p, spacing=0),
             spacing=0)
open("out.html", "w").write(file_html(layout, INLINE, "HADES flow"))
